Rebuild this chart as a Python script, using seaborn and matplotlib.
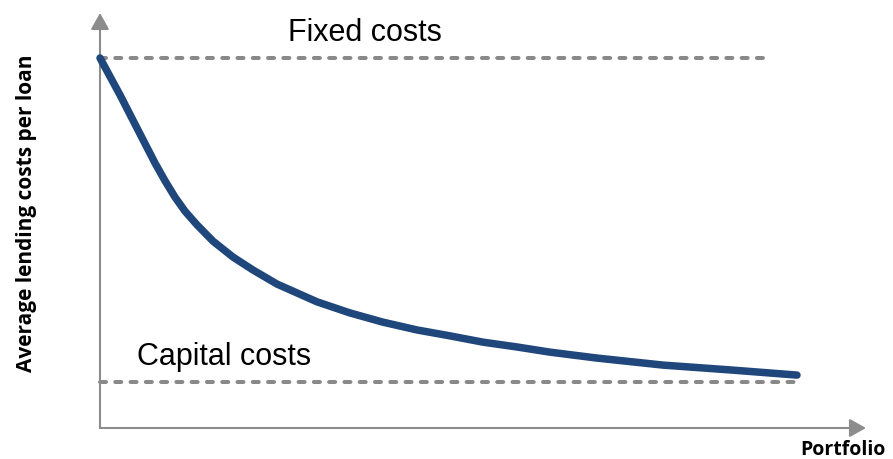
import matplotlib
matplotlib.use("Agg")
import matplotlib.pyplot as plt
import seaborn as sns
import pandas as pd

# ---- data ----
portfolio = [0, 2.86, 5.71, 7.86, 9.29, 10.71, 12.14, 13.86, 16.14, 19.0,
             21.86, 25.29, 31.0, 35.71, 40.43, 45.29, 50.0, 54.71, 59.57,
             64.29, 71.0, 80.43, 90.0, 99.57]
avg_cost = [10.0, 9.0, 7.95, 7.16, 6.68, 6.24, 5.86, 5.49, 5.05, 4.62,
            4.27, 3.89, 3.41, 3.11, 2.86, 2.65, 2.49, 2.32, 2.19,
            2.05, 1.89, 1.70, 1.57, 1.43]
fixed_costs = 10.0
fixed_span = [0, 95]
capital_costs = 1.24
capital_span = [0, 99.7]
labels = {"fixed": "Fixed costs", "capital": "Capital costs",
          "x": "Portfolio", "y": "Average lending costs per loan"}

sns.set_style("white")
plt.rcParams["font.family"] = ["Liberation Sans", "DejaVu Sans"]
plt.rcParams["lines.scale_dashes"] = False

fig = plt.figure(figsize=(8.93, 4.59), dpi=100)
ax = fig.add_axes([0, 0, 1, 1])

df = pd.DataFrame({"portfolio": portfolio, "cost": avg_cost})

gray = "#8c8c8c"
dash_gray = "#898989"

# axes with arrows
arrow = dict(arrowstyle="-|>,head_length=1.0,head_width=0.56", color=gray,
             lw=1.5, shrinkA=0, shrinkB=0, mutation_scale=10)
ax.annotate("", xy=(0, (428 - 13) / 37), xytext=(0, 0), arrowprops=arrow)
ax.annotate("", xy=((866 - 100) / 7, 0), xytext=(0, 0), arrowprops=arrow)

# dashed reference lines
ax.plot(fixed_span, [fixed_costs, fixed_costs], color=dash_gray, lw=2.9,
        dashes=(4.3, 6.7), dash_capstyle="round", zorder=2)
ax.plot(capital_span, [capital_costs, capital_costs], color=dash_gray, lw=2.9,
        dashes=(4.3, 6.7), dash_capstyle="round", zorder=2)

# main curve
sns.lineplot(data=df, x="portfolio", y="cost", ax=ax, color="#1f477b",
             lw=5.4, solid_capstyle="round", solid_joinstyle="round",
             zorder=3, legend=False)
ax.set_xlim(-100 / 7, 793 / 7)
ax.set_ylim(-31 / 37, 428 / 37)
ax.axis("off")

# texts
ax.text((288 - 100) / 7, (428 - 41) / 37, labels["fixed"], fontsize=22,
        ha="left", va="baseline", color="black")
ax.text((137 - 100) / 7, (428 - 365) / 37, labels["capital"], fontsize=22,
        ha="left", va="baseline", color="black")
ax.text((886 - 100) / 7, (428 - 455) / 37, labels["x"], fontsize=14,
        fontweight="bold", family=["Open Sans", "DejaVu Sans"],
        ha="right", va="baseline", color="black")
ax.text((27 - 100) / 7, (428 - 213) / 37, labels["y"], fontsize=15,
        fontweight="bold", family=["Open Sans", "DejaVu Sans"],
        rotation=90, ha="center", va="center", color="black")

fig.savefig("out.png", dpi=100)
